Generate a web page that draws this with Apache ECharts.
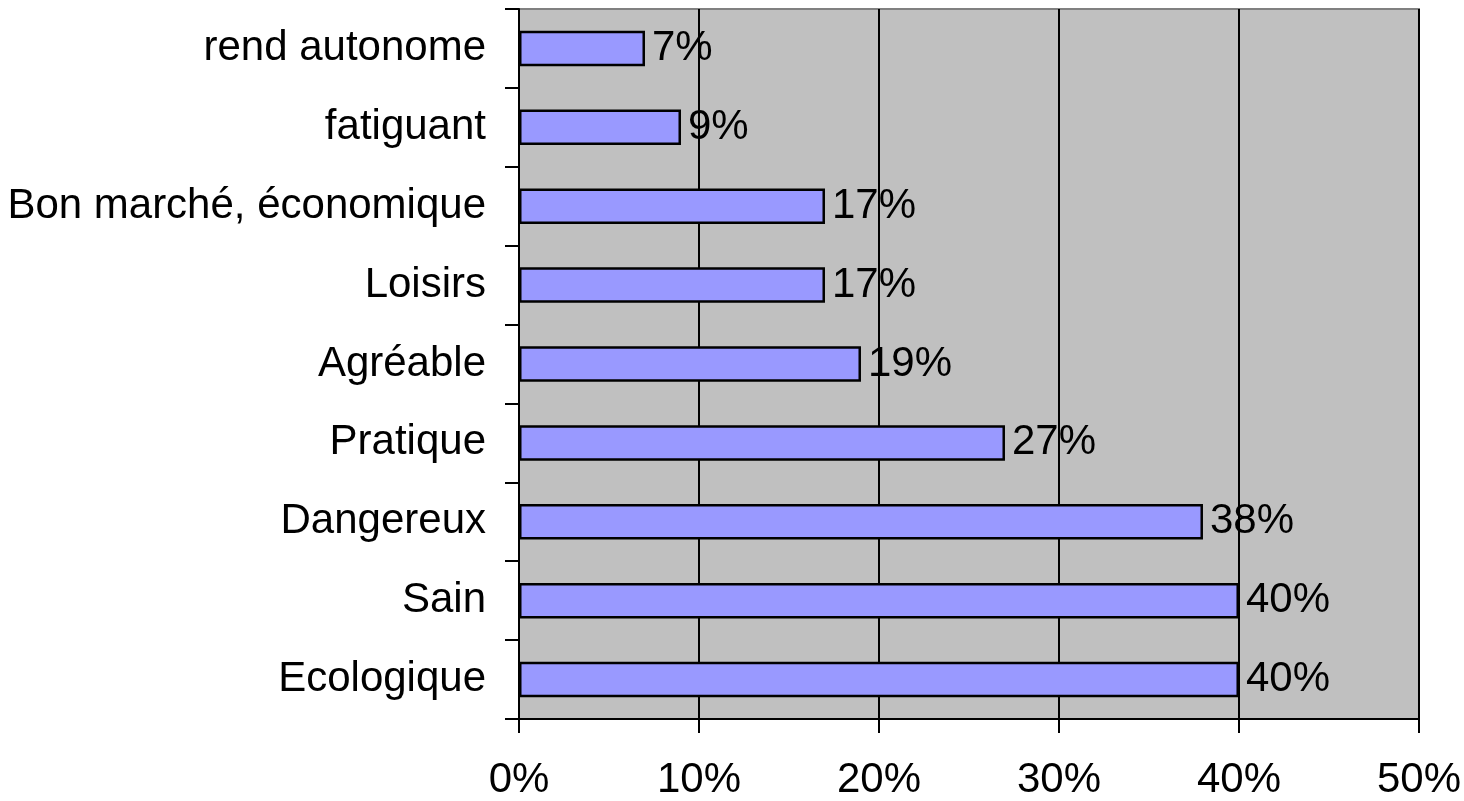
<!DOCTYPE html>
<html>
<head>
<meta charset="utf-8">
<script src="https://cdn.jsdelivr.net/npm/echarts@6/dist/echarts.min.js"></script>
<style>
html, body { margin: 0; padding: 0; background: #fff; }
#chart { width: 1464px; height: 801px; }
</style>
</head>
<body>
<div id="chart"></div>
<script>
// catégories, du bas vers le haut
const categories = ["Ecologique", "Sain", "Dangereux", "Pratique", "Agréable", "Loisirs", "Bon marché, économique", "fatiguant", "rend autonome"];
const values = [40, 40, 38, 27, 19, 17, 17, 9, 7];
const xTicks = [0, 10, 20, 30, 40, 50];

const chart = echarts.init(document.getElementById("chart"));
const font = "Liberation Sans, Arial, sans-serif";

const option = {
  animation: false,
  grid: {
    left: 519, top: 9, right: 45, bottom: 79,
    show: true,
    backgroundColor: "#c0c0c0",
    borderColor: "#808080",
    borderWidth: 2
  },
  xAxis: {
    type: "value",
    min: xTicks[0],
    max: xTicks[xTicks.length - 1],
    interval: 10,
    axisLine: { show: true, lineStyle: { color: "#000", width: 2 } },
    axisTick: { show: true, length: 14, inside: false, lineStyle: { color: "#000", width: 2 } },
    splitLine: { show: true, lineStyle: { color: "#000", width: 2 } },
    axisLabel: { formatter: "{value}%", color: "#000", fontSize: 42, fontFamily: font, margin: 40 }
  },
  yAxis: {
    type: "category",
    data: categories,
    axisLine: { show: true, lineStyle: { color: "#000", width: 2 } },
    axisTick: { show: true, length: 14, lineStyle: { color: "#000", width: 2 } },
    axisLabel: { color: "#000", fontSize: 42, fontFamily: font, margin: 33 }
  },
  series: [{
    type: "bar",
    data: values,
    barWidth: "45%",
    itemStyle: { color: "#9999ff", borderColor: "#000", borderWidth: 2.5 },
    label: {
      show: true,
      position: "right",
      distance: 7,
      formatter: "{c}%",
      color: "#000",
      fontSize: 42,
      fontFamily: font
    }
  }]
};
chart.setOption(option);
</script>
</body>
</html>
